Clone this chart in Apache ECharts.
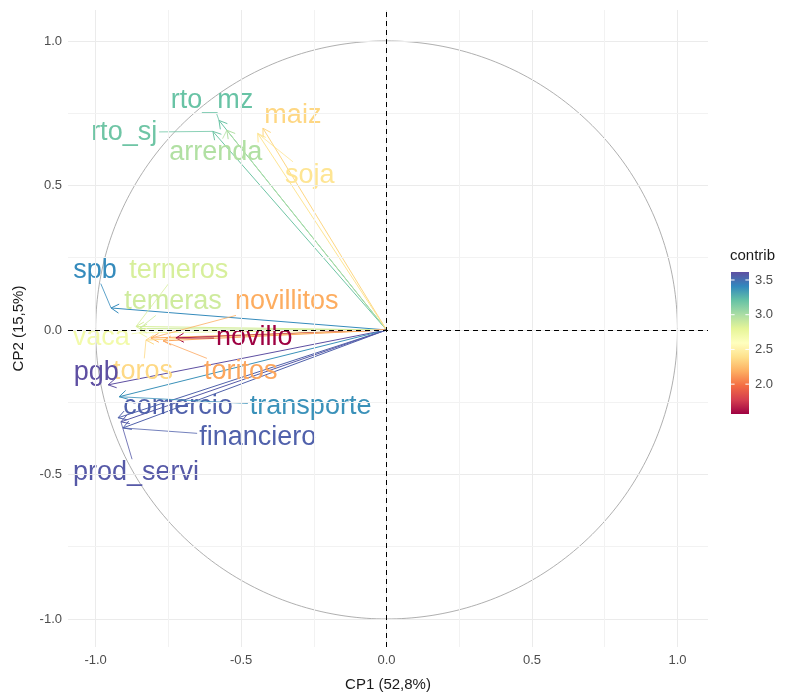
<!DOCTYPE html>
<html>
<head>
<meta charset="utf-8">
<script src="https://cdn.jsdelivr.net/npm/echarts@6/dist/echarts.min.js"></script>
<style>
  html, body { margin: 0; padding: 0; background: #fff; }
  #chart { width: 792px; height: 697px; }
</style>
</head>
<body>
<div id="chart"></div>
<script>
// variables of the PCA and their coordinates on CP1 / CP2
const vars = ['rto_mz', 'rto_sj', 'arrenda', 'maiz', 'soja', 'spb', 'terneros', 'temeras', 'vaca',
  'novillitos', 'novillo', 'toros', 'toritos', 'pgb', 'comercio', 'transporte', 'financiero', 'prod_servi']
const cp1 = [-0.576, -0.597, -0.549, -0.425, -0.443, -0.947, -0.861, -0.850, -0.850,
  -0.810, -0.724, -0.827, -0.768, -0.957, -0.923, -0.919, -0.906, -0.913]
const cp2 = [0.725, 0.687, 0.691, 0.698, 0.680, 0.076, 0.012, 0.005, -0.010,
  -0.028, -0.028, -0.035, -0.038, -0.190, -0.304, -0.231, -0.339, -0.318]
const contrib = [3.20, 3.18, 2.98, 2.35, 2.42, 3.40, 2.85, 2.88, 2.70,
  2.18, 1.57, 2.36, 2.16, 3.615, 3.55, 3.38, 3.55, 3.58]

// where the repelled labels ended up (data units)
const labelX = [-0.600, -0.902, -0.587, -0.322, -0.264, -1.002, -0.714, -0.734, -0.981,
  -0.343, -0.455, -0.837, -0.501, -0.998, -0.717, -0.261, -0.443, -0.861]
const labelY = [0.794, 0.684, 0.615, 0.743, 0.535, 0.207, 0.207, 0.097, -0.028,
  0.097, -0.028, -0.145, -0.145, -0.149, -0.266, -0.266, -0.373, -0.494]

const axisTicks = [-1, -0.5, 0, 0.5, 1]
const gridMinor = [-0.75, -0.25, 0.25, 0.75]
const legendTicks = [2.0, 2.5, 3.0, 3.5]
const contribMin = 1.57
const contribMax = 3.615

const spectral = ['#9E0142', '#D53E4F', '#F46D43', '#FDAE61', '#FEE08B', '#FFFFBF',
  '#E6F598', '#ABDDA4', '#66C2A5', '#3288BD', '#5E4FA2']

const FONT = '"Liberation Sans", Arial, sans-serif'
const labelSize = 27

const measureCtx = document.createElement('canvas').getContext('2d')
measureCtx.font = labelSize + 'px ' + FONT

// unit circle
const circle = []
for (let i = 0; i <= 360; i++) {
  const a = i * Math.PI / 180
  circle.push([Math.cos(a), Math.sin(a)])
}

const rows = vars.map((v, i) => [cp1[i], cp2[i], contrib[i], labelX[i], labelY[i]])

function renderArrow(params, api) {
  const o = api.coord([0, 0])
  const p = api.coord([api.value(0), api.value(1)])
  const c = api.visual('color')
  const dx = p[0] - o[0]
  const dy = p[1] - o[1]
  const L = Math.hypot(dx, dy)
  const ux = dx / L
  const uy = dy / L
  const h = 9
  const ca = Math.cos(Math.PI / 6)
  const sa = Math.sin(Math.PI / 6)
  const h1 = [p[0] - h * (ux * ca - uy * sa), p[1] - h * (uy * ca + ux * sa)]
  const h2 = [p[0] - h * (ux * ca + uy * sa), p[1] - h * (uy * ca - ux * sa)]
  return {
    type: 'group',
    children: [
      { type: 'line', shape: { x1: o[0], y1: o[1], x2: p[0], y2: p[1] }, style: { stroke: c, lineWidth: 1 } },
      { type: 'polyline', shape: { points: [h1, p, h2] }, style: { stroke: c, lineWidth: 1, fill: null } }
    ]
  }
}

function renderLabel(params, api) {
  const p = api.coord([api.value(0), api.value(1)])
  const q = api.coord([api.value(3), api.value(4)])
  const c = api.visual('color')
  const name = vars[params.dataIndex]
  const hw = measureCtx.measureText(name).width / 2 + 2
  const hh = labelSize * 0.5
  const children = []
  const dx = p[0] - q[0]
  const dy = p[1] - q[1]
  if (Math.abs(dx) > hw || Math.abs(dy) > hh) {
    const t = Math.min(dx !== 0 ? hw / Math.abs(dx) : Infinity, dy !== 0 ? hh / Math.abs(dy) : Infinity)
    const s = [q[0] + dx * t, q[1] + dy * t]
    if (Math.hypot(p[0] - s[0], p[1] - s[1]) > 4) {
      children.push({ type: 'line', shape: { x1: s[0], y1: s[1], x2: p[0], y2: p[1] }, style: { stroke: c, lineWidth: 0.8 } })
    }
  }
  children.push({
    type: 'text',
    style: { text: name, x: q[0], y: q[1], fill: c, font: labelSize + 'px ' + FONT, align: 'center', verticalAlign: 'middle' }
  })
  return { type: 'group', children }
}

function renderColorbar(params, api) {
  const a = api.coord([0, contribMax])
  const b = api.coord([1, contribMin])
  const stops = spectral.map((col, i) => ({ offset: i / (spectral.length - 1), color: col }))
  return {
    type: 'rect',
    shape: { x: a[0], y: a[1], width: b[0] - a[0], height: b[1] - a[1] },
    style: { fill: new echarts.graphic.LinearGradient(0, 1, 0, 0, stops) }
  }
}

function renderLegendTick(params, api) {
  const a = api.coord([0, api.value(0)])
  const b = api.coord([1, api.value(0)])
  const len = (b[0] - a[0]) / 5
  return {
    type: 'group',
    children: [
      { type: 'line', shape: { x1: a[0], y1: a[1], x2: a[0] + len, y2: a[1] }, style: { stroke: '#fff', lineWidth: 1 } },
      { type: 'line', shape: { x1: b[0] - len, y1: b[1], x2: b[0], y2: b[1] }, style: { stroke: '#fff', lineWidth: 1 } }
    ]
  }
}

const chart = echarts.init(document.getElementById('chart'), null, { renderer: 'canvas' })

const tickFmt = v => (Math.round(v * 10) / 10).toFixed(1)

chart.setOption({
  animation: false,
  backgroundColor: '#fff',
  textStyle: { fontFamily: FONT },
  grid: [
    { left: 68, top: 10, width: 640, height: 638 },
    { left: 731, top: 272, width: 18, height: 142 }
  ],
  xAxis: [{
    type: 'value',
    min: -1.095,
    max: 1.105,
    name: 'CP1 (52,8%)',
    nameLocation: 'middle',
    nameGap: 30,
    nameTextStyle: { fontSize: 15, color: '#1a1a1a', fontFamily: FONT },
    axisLine: { show: false },
    axisTick: { show: true, length: 4, customValues: axisTicks, lineStyle: { color: '#333' } },
    axisLabel: { customValues: axisTicks, formatter: tickFmt, fontSize: 13, color: '#4d4d4d', margin: 7 },
    splitLine: { show: false }
  }, {
    gridIndex: 1, type: 'value', min: 0, max: 1, show: false
  }],
  yAxis: [{
    type: 'value',
    min: -1.097,
    max: 1.107,
    name: 'CP2 (15,5%)',
    nameLocation: 'middle',
    nameGap: 42,
    nameTextStyle: { fontSize: 15, color: '#1a1a1a', fontFamily: FONT },
    axisLine: { show: false },
    axisTick: { show: true, length: 4, customValues: axisTicks, lineStyle: { color: '#333' } },
    axisLabel: { customValues: axisTicks, formatter: tickFmt, fontSize: 13, color: '#4d4d4d', margin: 6 },
    splitLine: { show: false }
  }, {
    gridIndex: 1,
    type: 'value',
    min: contribMin,
    max: contribMax,
    position: 'right',
    axisLine: { show: false },
    axisTick: { show: false },
    splitLine: { show: false },
    axisLabel: { customValues: legendTicks, formatter: tickFmt, fontSize: 13, color: '#4d4d4d', margin: 6 }
  }],
  visualMap: {
    show: false,
    type: 'continuous',
    min: contribMin,
    max: contribMax,
    dimension: 2,
    seriesIndex: [3, 4],
    inRange: { color: spectral }
  },
  graphic: [{
    type: 'text',
    left: 730,
    top: 248,
    style: { text: 'contrib', font: '15px ' + FONT, fill: '#1a1a1a' }
  }],
  series: [
    {
      // panel grid lines
      type: 'line',
      data: [],
      silent: true,
      z: 0,
      markLine: {
        silent: true,
        symbol: 'none',
        label: { show: false },
        animation: false,
        data: [
          ...axisTicks.map(v => ({ xAxis: v, lineStyle: { color: '#ebebeb', width: 1, type: 'solid' } })),
          ...axisTicks.map(v => ({ yAxis: v, lineStyle: { color: '#ebebeb', width: 1, type: 'solid' } })),
          ...gridMinor.map(v => ({ xAxis: v, lineStyle: { color: '#f2f2f2', width: 1, type: 'solid' } })),
          ...gridMinor.map(v => ({ yAxis: v, lineStyle: { color: '#f2f2f2', width: 1, type: 'solid' } }))
        ]
      }
    },
    {
      type: 'line',
      data: circle,
      showSymbol: false,
      silent: true,
      z: 1,
      lineStyle: { color: '#9a9a9a', width: 0.8 }
    },
    {
      // reference lines through the origin
      type: 'line',
      data: [],
      silent: true,
      z: 2,
      markLine: {
        silent: true,
        symbol: 'none',
        label: { show: false },
        animation: false,
        lineStyle: { color: '#000', width: 1, type: [5, 4] },
        data: [{ xAxis: 0 }, { yAxis: 0 }]
      }
    },
    {
      type: 'custom',
      renderItem: renderArrow,
      data: rows,
      encode: { x: 0, y: 1 },
      silent: true,
      z: 3
    },
    {
      type: 'custom',
      renderItem: renderLabel,
      data: rows,
      encode: { x: 0, y: 1 },
      silent: true,
      z: 4
    },
    {
      type: 'custom',
      xAxisIndex: 1,
      yAxisIndex: 1,
      renderItem: renderColorbar,
      data: [[0]],
      silent: true
    },
    {
      type: 'custom',
      xAxisIndex: 1,
      yAxisIndex: 1,
      renderItem: renderLegendTick,
      data: legendTicks.map(v => [v]),
      silent: true,
      z: 3
    }
  ]
})
</script>
</body>
</html>
